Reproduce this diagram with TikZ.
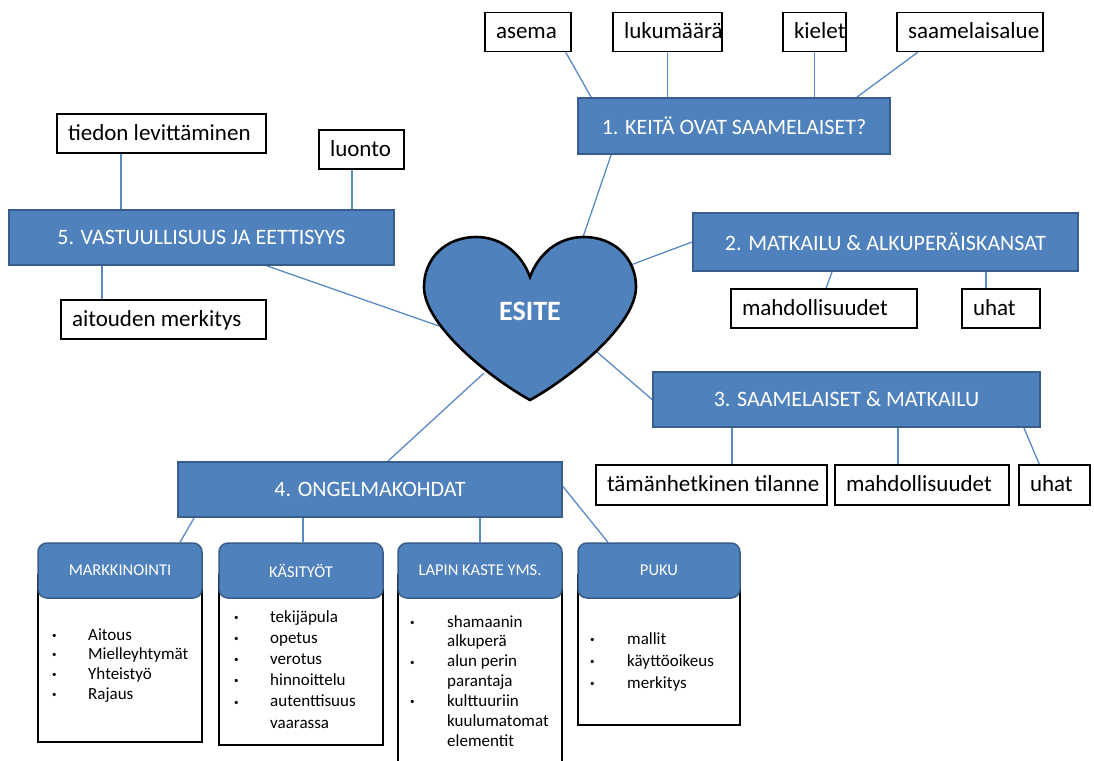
\documentclass[tikz,border=0pt]{standalone}
\usepackage{fontspec}
\setmainfont{Carlito}
\usetikzlibrary{calc}
\definecolor{officeblue}{HTML}{4F81BD}
\definecolor{officeedge}{HTML}{385D8A}
\definecolor{linkblue}{HTML}{5A8AC6}
\newcommand\leftpadbox[2]{\makebox[#1pt][l]{#2}}
\newcommand\cardbul{{\fontsize{9}{9}\selectfont\raisebox{1.8pt}{•}}}
\pgfdeclarelayer{bg}
\pgfsetlayers{bg,main}
\begin{document}
\begin{tikzpicture}[x=1pt,y=-1pt,
  wbox/.style={draw=black, line width=1.2pt, fill=white, minimum height=39pt, inner ysep=0pt, inner xsep=11pt, text height=17pt, text depth=4pt, font=\fontsize{23}{24}\selectfont, text=black},
  bbox/.style={draw=officeedge, line width=1.8pt, fill=officeblue, inner sep=0pt, text=white, font=\fontsize{22}{25}\selectfont},
  link/.style={draw=linkblue, line width=1.3pt},
  cardhead/.style={draw=officeedge, line width=1.5pt, fill=officeblue, rounded corners=9pt, minimum width=164pt, minimum height=55pt, inner sep=0pt, text=white, font=\fontsize{16.5}{18}\selectfont},
  cardbody/.style={draw=black, line width=2.8pt, fill=white, minimum width=164pt, inner sep=0pt},
  cardtext/.style={anchor=base west, inner sep=0pt, align=left}
]
\useasboundingbox (0,0) rectangle (1094,760);

% ---- top white boxes
\node[wbox] (asema) at (528,32) {\leftpadbox{64}{asema}};
\node[wbox] (lukumaara) at (667.5,32) {\leftpadbox{87}{lukumäärä}};
\node[wbox] (kielet) at (814.5,32) {\leftpadbox{41}{kielet}};
\node[wbox] (saam) at (970,32) {\leftpadbox{124}{saamelaisalue}};

% ---- main blue boxes
\node[bbox, minimum width=312pt, minimum height=56pt] (k1) at (734,126) {1. KEITÄ OVAT SAAMELAISET?};
\node[bbox, minimum width=385pt, minimum height=58pt] (k2) at (885.5,242) {2. MATKAILU \& ALKUPERÄISKANSAT};
\node[bbox, minimum width=387pt, minimum height=55pt] (k3) at (846.5,399.5) {3. SAAMELAISET \& MATKAILU};
\node[bbox, minimum width=384pt, minimum height=55pt] (k4) at (370,489.5) {4. ONGELMAKOHDAT};
\node[bbox, minimum width=385pt, minimum height=55pt] (k5) at (201.5,237.5) {5. VASTUULLISUUS JA EETTISYYS};

% ---- other white boxes
\node[wbox] (mahd1) at (824,308.5) {\leftpadbox{164}{mahdollisuudet}};
\node[wbox] (uhat1) at (1001,308.5) {\leftpadbox{56}{uhat}};
\node[wbox, minimum height=40pt] (tama) at (711.5,485) {\leftpadbox{209}{tämänhetkinen tilanne}};
\node[wbox, minimum height=40pt] (mahd2) at (922,485) {\leftpadbox{152}{mahdollisuudet}};
\node[wbox, minimum height=40pt] (uhat2) at (1054.5,485) {\leftpadbox{49}{uhat}};
\node[wbox] (tiedon) at (161.5,133.5) {\leftpadbox{187}{tiedon levittäminen}};
\node[wbox] (luonto) at (361.5,149.5) {\leftpadbox{63}{luonto}};
\node[wbox] (aitouden) at (163.5,319.5) {\leftpadbox{183}{aitouden merkitys}};

% ---- heart
\path[draw=black, line width=2.6pt, fill=officeblue]
  (530,277) .. controls (522,255) and (503,237) .. (476,237)
  .. controls (446,237) and (424,258) .. (424,287)
  .. controls (424,325) and (490,378) .. (530,400)
  .. controls (570,378) and (636,325) .. (636,287)
  .. controls (636,258) and (614,237) .. (584,237)
  .. controls (557,237) and (538,255) .. (530,277) -- cycle;
\node[font=\bfseries\fontsize{28}{30}\selectfont, text=white] (esite) at (530,311) {ESITE};
\coordinate (hN) at (582,240);
\coordinate (hE) at (628,266);
\coordinate (hSE) at (597,352);
\coordinate (hS) at (484,373);
\coordinate (hW) at (439,326);

% ---- cards
\node[cardbody, minimum height=167pt] (mbody) at (120,658.5) {};
\node[cardhead] (mhead) at (120,570.5) {MARKKINOINTI};
\node[cardbody, minimum height=170pt] (kbody) at (301,660) {};
\node[cardhead] (khead) at (301,570.5) {KÄSITYÖT};
\node[cardbody, minimum height=200pt] (lbody) at (480,675) {};
\node[cardhead] (lhead) at (480,570.5) {LAPIN KASTE YMS.};
\node[cardbody, minimum width=162pt, minimum height=150pt] (pbody) at (659,650) {};
\node[cardhead, minimum width=162pt] (phead) at (659,570.5) {PUKU};

\node[cardtext, font=\fontsize{17}{19.7}\selectfont] (mtext) at (52,640)
  {\begin{tabular}[t]{@{}p{36pt}@{}l@{}}\cardbul & Aitous\\ \cardbul & Mielleyhtymät\\ \cardbul & Yhteistyö\\ \cardbul & Rajaus\end{tabular}};
\node[cardtext, font=\fontsize{17}{21.2}\selectfont] (ktext) at (234,622)
  {\begin{tabular}[t]{@{}p{36pt}@{}l@{}}\cardbul & tekijäpula\\ \cardbul & opetus\\ \cardbul & verotus\\ \cardbul & hinnoittelu\\ \cardbul & autenttisuus\\ & vaarassa\end{tabular}};
\node[cardtext, font=\fontsize{17}{19.9}\selectfont] (ltext) at (410,627)
  {\begin{tabular}[t]{@{}p{37pt}@{}l@{}}\cardbul & shamaanin\\ & alkuperä\\ \cardbul & alun perin\\ & parantaja\\ \cardbul & kulttuuriin\\ & kuulumatomat\\ & elementit\end{tabular}};
\node[cardtext, font=\fontsize{17}{22.3}\selectfont] (ptext) at (590,644)
  {\begin{tabular}[t]{@{}p{37pt}@{}l@{}}\cardbul & mallit\\ \cardbul & käyttöoikeus\\ \cardbul & merkitys\end{tabular}};

% ---- connectors (behind)
\begin{pgfonlayer}{bg}
\draw[link] ([xshift=-6pt]asema.south east) -- ([xshift=14pt]k1.north west);
\draw[link] (lukumaara.south) -- (lukumaara.south |- k1.north);
\draw[link] (kielet.south) -- (kielet.south |- k1.north);
\draw[link] ([xshift=-52pt]saam.south) -- ([xshift=-34pt]k1.north east);
\draw[link] ([xshift=34pt]k1.south west) -- (hN);
\draw[link] (hE) -- (k2.west);
\draw[link] ([xshift=-53.5pt]k2.south) -- ([xshift=2pt]mahd1.north);
\draw[link] ([xshift=-15pt]uhat1.north) -- ([xshift=-15pt]uhat1.north |- k2.south);
\draw[link] (hSE) -- (k3.west);
\draw[link] ([xshift=20.5pt]tama.north) -- ([xshift=20.5pt]tama.north |- k3.south);
\draw[link] ([xshift=-24pt]mahd2.north) -- ([xshift=-24pt]mahd2.north |- k3.south);
\draw[link] ([xshift=-17pt]k3.south east) -- ([xshift=21pt]uhat2.north west);
\draw[link] (hS) -- ([xshift=18pt]k4.north);
\draw[link] ([xshift=65.5pt]k5.south) -- (hW);
\draw[link] ([xshift=-40.5pt]tiedon.south) -- ([xshift=-40.5pt]tiedon.south |- k5.north);
\draw[link] ([xshift=-9.5pt]luonto.south) -- ([xshift=-9.5pt]luonto.south |- k5.north);
\draw[link] ([xshift=-61.5pt]aitouden.north) -- ([xshift=-61.5pt]aitouden.north |- k5.south);
\draw[link] ([xshift=17pt]k4.south west) -- ([xshift=60pt]mhead.north);
\draw[link] ([xshift=2pt]khead.north) -- ([xshift=2pt]khead.north |- k4.south);
\draw[link] (lhead.north) -- (lhead.north |- k4.south);
\draw[link] ([yshift=3pt]k4.east) -- ([xshift=-51pt]phead.north);
\end{pgfonlayer}
\end{tikzpicture}
\end{document}
